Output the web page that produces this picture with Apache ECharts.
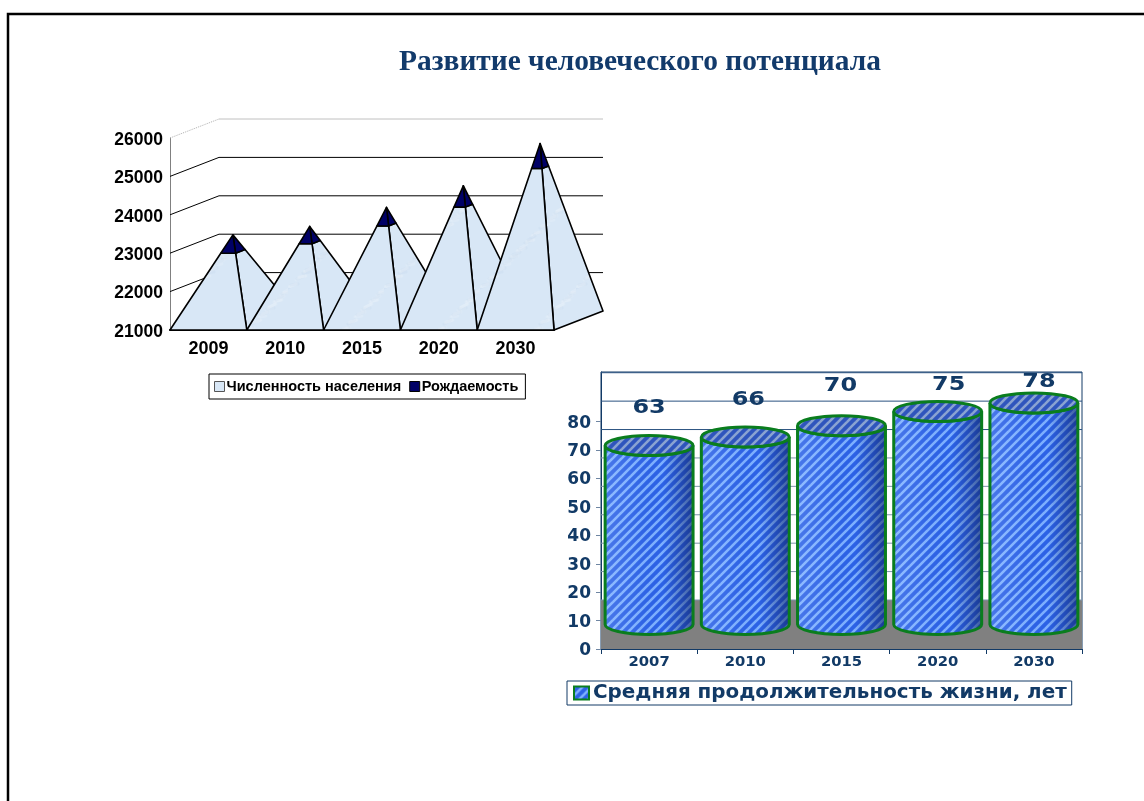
<!DOCTYPE html>
<html>
<head>
<meta charset="utf-8">
<title>Развитие человеческого потенциала</title>
<script src="https://cdn.jsdelivr.net/npm/echarts@6/dist/echarts.min.js"></script>
<style>
html, body { margin: 0; padding: 0; background: #fff; }
#chart { width: 1144px; height: 801px; }
</style>
</head>
<body>
<div id="chart"></div>
<script>
var titleText = 'Развитие человеческого потенциала';

// left chart (pyramids)
var popYears = ['2009', '2010', '2015', '2020', '2030'];
var population = [22800, 23040, 23500, 23990, 24990];
var birthRate = [430, 410, 445, 520, 620];
var popTicks = [21000, 22000, 23000, 24000, 25000, 26000];

// right chart (cylinders)
var lifeYears = ['2007', '2010', '2015', '2020', '2030'];
var lifeValues = [63, 66, 70, 75, 78];
var lifeTicks = [0, 10, 20, 30, 40, 50, 60, 70, 80];

// the value labels were dragged by hand in the original
var labelNudge = [[0, -37], [3, -37], [-1, -40], [11, -26], [5, -21]];

var popName = 'Численность населения';
var birthName = 'Рождаемость';
var lifeName = 'Средняя продолжительность жизни, лет';

function stripeTile(base, stripe) {
    var c = document.createElement('canvas');
    c.width = c.height = 9;
    var g = c.getContext('2d');
    g.fillStyle = base;
    g.fillRect(0, 0, 9, 9);
    g.strokeStyle = stripe;
    g.lineWidth = 2.6;
    [-9, 0, 9].forEach(function (o) {
        g.beginPath();
        g.moveTo(o - 1, 10);
        g.lineTo(o + 10, -1);
        g.stroke();
    });
    return { image: c, repeat: 'repeat' };
}

function marbleTile() {
    var c = document.createElement('canvas');
    c.width = c.height = 96;
    var g = c.getContext('2d');
    g.fillStyle = '#d8e7f6';
    g.fillRect(0, 0, 96, 96);
    g.lineWidth = 3;
    g.lineCap = 'round';
    for (var k = 0; k < 50; k++) {
        var x = (k * 37) % 96, y = (k * 59) % 96;
        g.strokeStyle = k % 3 ? 'rgba(255,255,255,0.14)' : 'rgba(175,200,228,0.14)';
        g.beginPath();
        g.moveTo(x, y);
        g.lineTo(x + 7, y - 4 + (k % 4));
        g.stroke();
    }
    return { image: c, repeat: 'repeat' };
}

var marble = marbleTile();
var bodyStripes = stripeTile('#2c62e6', '#7db0ff');
var topStripes = stripeTile('#2f55bd', '#8aa3d2');

var popDepth = [49, -19];
var lifeDepth = 49;

function lerp(a, b, t) {
    return [a[0] + (b[0] - a[0]) * t, a[1] + (b[1] - a[1]) * t];
}

function pyramidCorners(params, api) {
    var i = api.value(0), pop = api.value(1), total = api.value(2);
    var w = api.size([1, 0])[0];
    var base = api.coord([i, popTicks[0]]);
    var fl = [base[0] - w / 2, base[1]];
    var fr = [base[0] + w / 2, base[1]];
    var br = [fr[0] + popDepth[0], fr[1] + popDepth[1]];
    var top = api.coord([i, total]);
    var apex = [top[0] + popDepth[0] / 2, top[1] + popDepth[1] / 2];
    var t = (pop - popTicks[0]) / (total - popTicks[0]);
    return { fl: fl, fr: fr, br: br, apex: apex, cfl: lerp(fl, apex, t), cfr: lerp(fr, apex, t), cbr: lerp(br, apex, t) };
}

function face(points, fill) {
    return {
        type: 'polygon',
        shape: { points: points },
        style: { fill: fill, stroke: '#000', lineWidth: 1.6, lineJoin: 'round' }
    };
}

function renderPopulation(params, api) {
    var p = pyramidCorners(params, api);
    return { type: 'group', children: [
        face([p.fr, p.br, p.cbr, p.cfr], marble),
        face([p.fl, p.fr, p.cfr, p.cfl], marble)
    ] };
}

function renderBirth(params, api) {
    var p = pyramidCorners(params, api);
    return { type: 'group', children: [
        face([p.cfr, p.cbr, p.apex], '#000066'),
        face([p.cfl, p.cfr, p.apex], '#000066')
    ] };
}

function renderPopWall(params, api) {
    var a = api.coord([0, api.value(0)]);
    var w = api.size([1, 0])[0];
    var x0 = a[0] - w / 2, y0 = a[1];
    var x1 = x0 + popDepth[0], y1 = y0 + popDepth[1];
    var last = api.value(0) === popTicks[popTicks.length - 1];
    return { type: 'group', children: [
        { type: 'line', shape: { x1: x0, y1: y0, x2: x1, y2: y1 },
          style: { stroke: last ? '#b0b0b0' : '#000', lineWidth: 1, lineDash: last ? [1, 1] : null } },
        { type: 'line', shape: { x1: x1, y1: y1, x2: x1 + w * popYears.length, y2: y1 },
          style: { stroke: last ? '#c0c0c0' : '#000', lineWidth: 1 } }
    ] };
}

function renderLifeWall(params, api) {
    var v = api.value(0);
    var a = api.coord([0, v]);
    var w = api.size([1, 0])[0];
    var x0 = a[0] - w / 2, y = a[1] - lifeDepth;
    var children = [{ type: 'line', shape: { x1: x0, y1: y, x2: x0 + w * lifeYears.length, y2: y },
        style: { stroke: v < 60 ? '#7f93aa' : '#2a5280', lineWidth: 1 } }];
    if (v === 0) {
        children.unshift({ type: 'rect', shape: { x: x0, y: y, width: w * lifeYears.length, height: lifeDepth },
            style: { fill: '#808080' } });
    }
    return { type: 'group', children: children };
}

function renderCylinder(params, api) {
    var i = api.value(0), v = api.value(1);
    var w = api.size([1, 0])[0];
    var front = api.coord([i, v]);
    var floor = api.coord([i, 0]);
    var cx = front[0];
    var rx = w * 0.457, ry = 10;
    var top = front[1] - lifeDepth / 2;
    var bot = floor[1] - lifeDepth / 2;
    var l = cx - rx, r = cx + rx;
    var body = 'M' + l + ' ' + top + 'L' + l + ' ' + bot +
        'A' + rx + ' ' + ry + ' 0 0 0 ' + r + ' ' + bot +
        'L' + r + ' ' + top +
        'A' + rx + ' ' + ry + ' 0 0 1 ' + l + ' ' + top + 'Z';
    var nudge = labelNudge[i];
    return { type: 'group', children: [
        { type: 'path', shape: { pathData: body }, style: { fill: bodyStripes } },
        { type: 'path', shape: { pathData: body }, style: {
            fill: { type: 'linear', x: 0, y: 0, x2: 1, y2: 0, colorStops: [
                { offset: 0, color: 'rgba(255,255,255,0.14)' },
                { offset: 0.3, color: 'rgba(255,255,255,0.06)' },
                { offset: 0.65, color: 'rgba(15,30,100,0)' },
                { offset: 1, color: 'rgba(10,25,80,0.58)' }
            ] },
            stroke: '#0a7d1e', lineWidth: 3
        } },
        { type: 'ellipse', shape: { cx: cx, cy: top, rx: rx, ry: ry },
          style: { fill: topStripes, stroke: '#0a7d1e', lineWidth: 3 } },
        { type: 'text', x: cx + nudge[0], y: top + nudge[1], scaleX: 1.26, style: {
            text: String(v), x: 0, y: 0,
            align: 'center', verticalAlign: 'middle',
            font: 'bold 19px "DejaVu Sans"', fill: '#123a66'
        } }
    ] };
}

var popRows = population.map(function (v, i) { return [i, v, v + birthRate[i]]; });
var lifeRows = lifeValues.map(function (v, i) { return [i, v]; });

var chart = echarts.init(document.getElementById('chart'), null, { renderer: 'canvas' });

chart.setOption({
    animation: false,
    backgroundColor: '#fff',
    title: {
        text: titleText,
        left: 635,
        top: 43,
        textAlign: 'center',
        textStyle: { fontFamily: 'Liberation Serif', fontWeight: 'bold', fontSize: 29.4, color: '#123a6b' }
    },
    legend: [
        {
            data: [
                { name: popName, itemStyle: { color: '#d8e7f6', borderColor: '#555', borderWidth: 1 } },
                { name: birthName, itemStyle: { color: '#000066', borderColor: '#000', borderWidth: 1 } }
            ],
            left: 209,
            top: 374,
            itemWidth: 10,
            itemHeight: 10,
            itemGap: 8,
            padding: [5, 7, 5, 5],
            borderColor: '#000',
            borderWidth: 1,
            selectedMode: false,
            icon: 'rect',
            textStyle: { fontFamily: 'Liberation Sans', fontWeight: 'bold', fontSize: 14.5, color: '#000', padding: [0, 0, 0, -3] }
        },
        {
            data: [lifeName],
            left: 567,
            top: 681,
            itemWidth: 15,
            itemHeight: 13,
            padding: [2, 5, 2, 6],
            borderColor: '#123a66',
            borderWidth: 1,
            selectedMode: false,
            icon: 'rect',
            textStyle: { fontFamily: 'DejaVu Sans', fontWeight: 'bold', fontSize: 19.9, color: '#123a66', padding: [0, 0, 0, -1] }
        }
    ],
    grid: [
        { left: 170, top: 138, width: 384, height: 192 },
        { left: 601, top: 372, width: 481, height: 277, show: true, borderColor: '#123a66', borderWidth: 1, backgroundColor: 'transparent' }
    ],
    xAxis: [
        {
            type: 'category',
            gridIndex: 0,
            data: popYears,
            axisLine: { lineStyle: { color: '#000', width: 2 } },
            axisTick: { show: false },
            axisLabel: { fontFamily: 'Liberation Sans', fontWeight: 'bold', fontSize: 18, color: '#000', margin: 10 }
        },
        {
            type: 'category',
            gridIndex: 1,
            data: lifeYears,
            axisLine: { lineStyle: { color: '#123a66', width: 1 } },
            axisTick: { show: true, length: 5, lineStyle: { color: '#123a66' } },
            axisLabel: { fontFamily: 'DejaVu Sans', fontWeight: 'bold', fontSize: 14.8, color: '#123a66', margin: 6 }
        }
    ],
    yAxis: [
        {
            type: 'value',
            gridIndex: 0,
            min: 21000,
            max: 26000,
            interval: 1000,
            splitLine: { show: false },
            axisLine: { show: true, lineStyle: { color: '#808080' } },
            axisTick: { show: false },
            axisLabel: {
                formatter: function (v) { return '{v|' + v + '}'; },
                margin: 7,
                rich: { v: { fontFamily: 'Liberation Sans', fontWeight: 'bold', fontSize: 17.5, color: '#000', padding: [4, 0, 0, 0] } }
            }
        },
        {
            type: 'value',
            gridIndex: 1,
            min: 0,
            max: 97.5,
            interval: 10,
            splitLine: { show: false },
            axisLine: { show: true, lineStyle: { color: '#123a66' } },
            axisTick: { show: true, length: 5, customValues: lifeTicks, lineStyle: { color: '#6f86a3' } },
            axisLabel: {
                customValues: lifeTicks,
                formatter: function (v) { return '{v|' + v + '}'; },
                margin: 10,
                rich: { v: { fontFamily: 'DejaVu Sans', fontWeight: 'bold', fontSize: 17, color: '#123a66', padding: [3, 0, 0, 0] } }
            }
        }
    ],
    series: [
        {
            name: 'wall',
            type: 'custom',
            xAxisIndex: 0,
            yAxisIndex: 0,
            clip: false,
            silent: true,
            renderItem: renderPopWall,
            encode: { x: -1, y: 0 },
            data: popTicks.map(function (t) { return [t]; })
        },
        {
            name: popName,
            type: 'custom',
            xAxisIndex: 0,
            yAxisIndex: 0,
            clip: false,
            itemStyle: { color: marble, borderColor: '#000', borderWidth: 1 },
            renderItem: renderPopulation,
            encode: { x: 0, y: 1 },
            data: popRows
        },
        {
            name: birthName,
            type: 'custom',
            xAxisIndex: 0,
            yAxisIndex: 0,
            clip: false,
            itemStyle: { color: '#000066', borderColor: '#000', borderWidth: 1 },
            renderItem: renderBirth,
            encode: { x: 0, y: 2 },
            data: popRows
        },
        {
            name: 'lifeWall',
            type: 'custom',
            xAxisIndex: 1,
            yAxisIndex: 1,
            clip: false,
            silent: true,
            renderItem: renderLifeWall,
            encode: { x: -1, y: 0 },
            data: lifeTicks.map(function (t) { return [t]; })
        },
        {
            name: lifeName,
            type: 'custom',
            xAxisIndex: 1,
            yAxisIndex: 1,
            clip: false,
            itemStyle: { color: bodyStripes, borderColor: '#0a7d1e', borderWidth: 2 },
            renderItem: renderCylinder,
            encode: { x: 0, y: 1 },
            data: lifeRows
        }
    ],
    graphic: [
        // page frame of the slide
        { type: 'polyline', silent: true, shape: { points: [[8, 801], [8, 14], [1144, 14]] },
          style: { stroke: '#000', lineWidth: 2.5, fill: null } }
    ]
});
</script>
</body>
</html>
